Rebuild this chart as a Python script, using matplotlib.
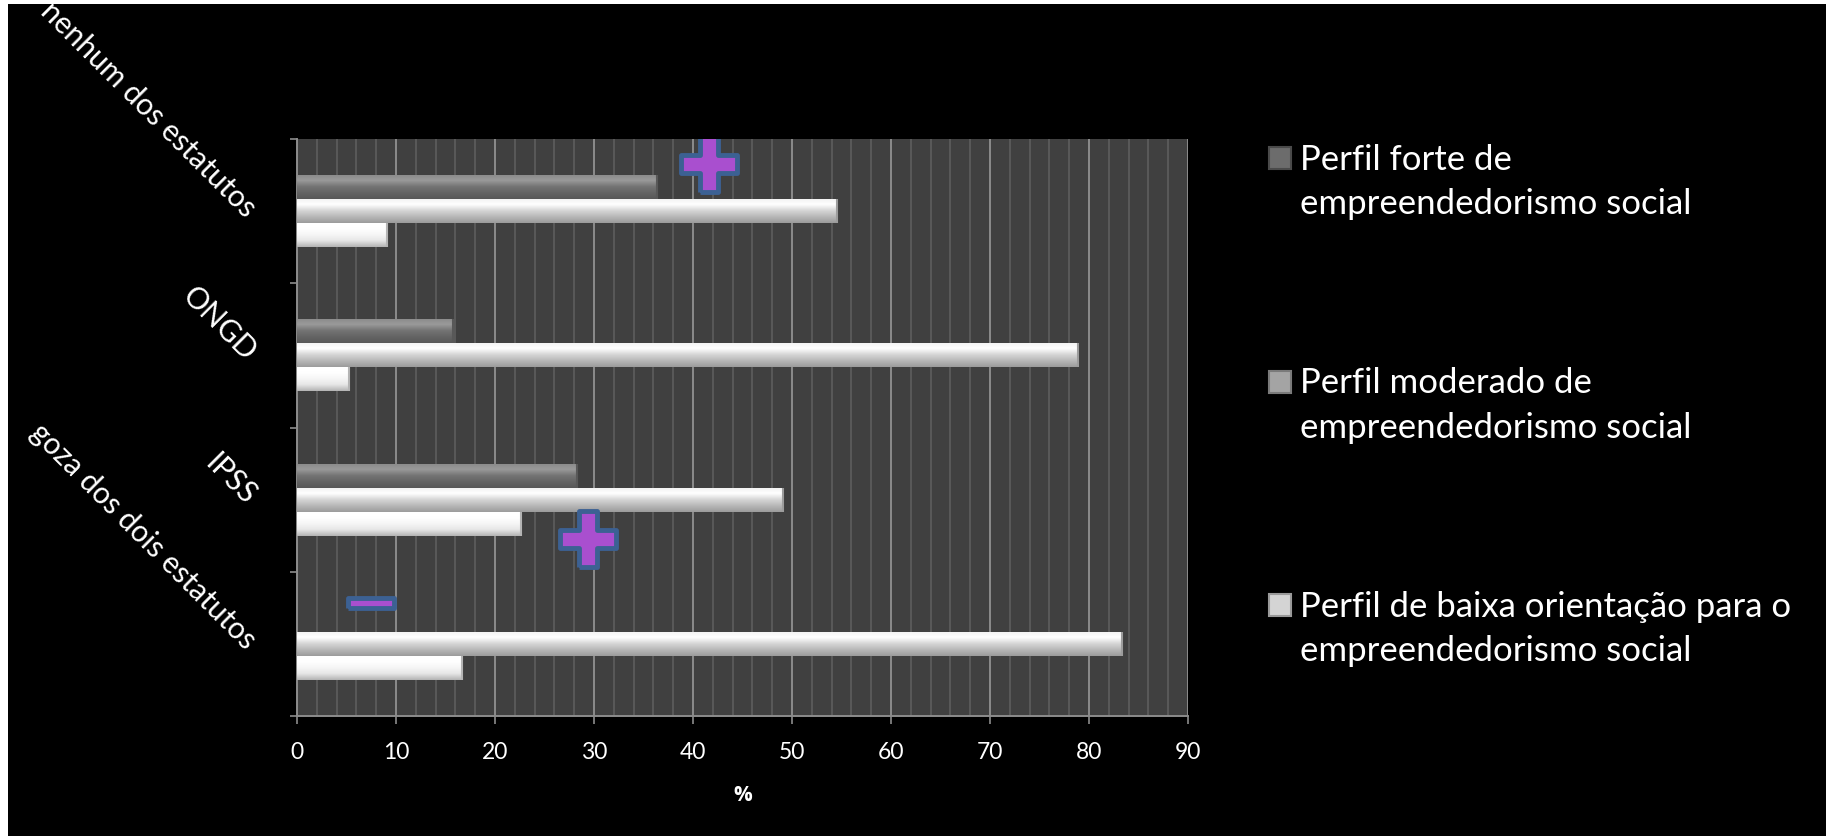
import numpy as np
import matplotlib
matplotlib.use("Agg")
import matplotlib.pyplot as plt
from matplotlib.colors import LinearSegmentedColormap
from matplotlib.patches import Rectangle
from matplotlib.path import Path

plt.rcParams['font.family'] = ['Lato', 'DejaVu Sans']

# categories from bottom to top, values in %
categorias = ['goza dos dois estatutos', 'IPSS', 'ONGD', 'nenhum dos estatutos']
forte = [0, 28.3, 15.8, 36.4]
moderado = [83.3, 49.1, 78.9, 54.5]
baixa = [16.7, 22.6, 5.3, 9.1]

series_nomes = ['Perfil forte de\nempreendedorismo social',
                'Perfil moderado de\nempreendedorismo social',
                'Perfil de baixa orientação para o\nempreendedorismo social']

# shapes placed on top of the chart (x in %, y in category units)
mais_x = [41.6, 29.4]
mais_y = [3.33, 0.73]
menos_x = [7.5]
menos_y = [0.28]

# vertical shading of each series (top -> bottom)
grad_forte = ['#8a8a8a', '#9a9a9a', '#747474', '#646464', '#585858']
grad_moderado = ['#f2f2f2', '#ffffff', '#d6d6d6', '#b8b8b8', '#9c9c9c']
grad_baixa = ['#ffffff', '#ffffff', '#f6f6f6', '#e6e6e6', '#b4b4b4']
# legend swatches
cores_legenda = [('#6c6c6c', '#4a4a4a'), ('#a4a4a4', '#7a7a7a'),
                 ('#d4d4d4', '#9a9a9a')]

fig = plt.figure(figsize=(18.26, 8.37), dpi=100, facecolor='white')
# black slide background
fig.patches.append(Rectangle((8 / 1826, 0), 1 - 8 / 1826, 1 - 5 / 837,
                             transform=fig.transFigure, facecolor='black',
                             edgecolor='none', zorder=-10))

ax = fig.add_axes([297 / 1826, 1 - 717 / 837, 891 / 1826, 577 / 837])
ax.set_facecolor('#404040')

h = 0.1664
y = np.arange(len(categorias))


def barras_gradiente(valores, offset, cores):
    cmap = LinearSegmentedColormap.from_list('g', cores[::-1])
    grad = np.linspace(0, 1, 64).reshape(-1, 1)
    bars = ax.barh(y + offset, valores, height=h, color=cores[2],
                   edgecolor='none', zorder=3)
    for b in bars:
        if b.get_width() <= 0:
            continue
        x0, y0 = b.get_x(), b.get_y()
        w, hh = b.get_width(), b.get_height()
        im = ax.imshow(grad, cmap=cmap, aspect='auto', origin='lower',
                       extent=[x0, x0 + w, y0, y0 + hh], zorder=4,
                       interpolation='bilinear')
        im.set_clip_path(b)
        # darker bevel at the end of the bar
        ax.plot([x0 + w, x0 + w], [y0, y0 + hh], color=cores[-1],
                lw=1.5, zorder=5, solid_capstyle='butt')
    return bars


barras_gradiente(forte, h, grad_forte)
barras_gradiente(moderado, 0, grad_moderado)
barras_gradiente(baixa, -h, grad_baixa)

# plus and minus shapes
mais = Path([(-1, -3), (1, -3), (1, -1), (3, -1), (3, 1), (1, 1), (1, 3),
             (-1, 3), (-1, 1), (-3, 1), (-3, -1), (-1, -1), (-1, -3)])
ax.plot(mais_x, mais_y, linestyle='none', marker=mais, markersize=40,
        markerfacecolor='#a94fcf', markeredgecolor='#3c6193',
        markeredgewidth=3.5, zorder=6)
menos = Path([(-5, -1.1), (5, -1.1), (5, 1.1), (-5, 1.1), (-5, -1.1)])
ax.plot(menos_x, menos_y, linestyle='none', marker=menos, markersize=33,
        markerfacecolor='#a94fcf', markeredgecolor='#3c6193',
        markeredgewidth=3.5, zorder=6)

ax.set_xlim(0, 90)
ax.set_ylim(-0.5, len(categorias) - 0.5)

ax.set_xticks(np.arange(0, 91, 10))
ax.set_xticks(np.arange(0, 91, 2), minor=True)
ax.grid(True, which='minor', axis='x', color='#5e5e5e', lw=1.2, zorder=1)
ax.grid(True, which='major', axis='x', color='#8c8c8c', lw=1.4, zorder=2)
ax.grid(False, axis='y')
ax.set_axisbelow(True)

ax.tick_params(axis='x', which='major', length=6, width=1.2, color='#8c8c8c',
               labelcolor='white', labelsize=16.5, pad=12)
ax.tick_params(axis='x', which='minor', length=0)
ax.set_xlabel('%', color='white', fontsize=15, fontweight='bold', labelpad=16,
              family=['Open Sans', 'DejaVu Sans'])

ax.set_yticks(y)
ax.set_yticklabels(categorias, rotation=-45, rotation_mode='anchor',
                   ha='right', va='center')
ax.set_yticks(np.arange(-0.5, len(categorias), 1), minor=True)
ax.tick_params(axis='y', which='major', length=0, pad=33,
               labelcolor='white', labelsize=21.5)
ax.tick_params(axis='y', which='minor', length=5, width=1.2, color='#8c8c8c')

for s in ['top', 'right']:
    ax.spines[s].set_visible(False)
for s in ['left', 'bottom']:
    ax.spines[s].set_color('#8c8c8c')
    ax.spines[s].set_linewidth(1.4)

# legend drawn beside the plot area
for i, (nome, (cor, borda)) in enumerate(zip(series_nomes, cores_legenda)):
    yc = 159 + i * 223.5
    fig.patches.append(Rectangle((1269 / 1826, 1 - (yc + 11) / 837),
                                 22 / 1826, 22 / 837, transform=fig.transFigure,
                                 facecolor=cor, edgecolor=borda, lw=1.5))
    fig.text(1300 / 1826, 1 - (yc - 15) / 837, nome, color='white',
             fontsize=25, va='top', ha='left', linespacing=1.48)

fig.savefig('out.png', dpi=100, facecolor=fig.get_facecolor())
